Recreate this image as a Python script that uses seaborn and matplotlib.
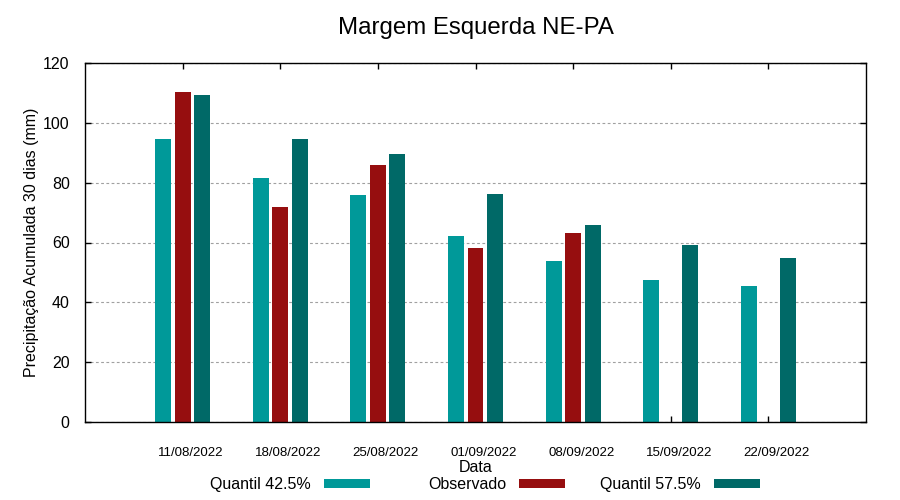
import matplotlib
matplotlib.use("Agg")
import matplotlib.pyplot as plt
import seaborn as sns
import pandas as pd
import numpy as np

dates = ["11/08/2022", "18/08/2022", "25/08/2022", "01/09/2022",
         "08/09/2022", "15/09/2022", "22/09/2022"]
q425 = [94.7, 81.4, 75.9, 62.3, 53.9, 47.6, 45.5]
observado = [110.4, 72.0, 86.0, 58.3, 63.3, np.nan, np.nan]
q575 = [109.4, 94.7, 89.7, 76.3, 65.7, 59.3, 54.9]
series_names = ["Quantil 42.5%", "Observado", "Quantil 57.5%"]
colors = ["#009999", "#960e0f", "#006967"]

df = pd.DataFrame({
    "Data": dates * 3,
    "valor": q425 + observado + q575,
    "serie": [series_names[0]] * 7 + [series_names[1]] * 7 + [series_names[2]] * 7,
})

sns.set_theme(style="white")
plt.rcParams["font.family"] = ["Liberation Sans", "DejaVu Sans"]
plt.rcParams["text.color"] = "black"
plt.rcParams["axes.labelcolor"] = "black"
plt.rcParams["xtick.color"] = "black"
plt.rcParams["ytick.color"] = "black"

fig = plt.figure(figsize=(9, 5), dpi=100)
ax = fig.add_axes([85 / 900, 1 - 422 / 500, (866 - 85) / 900, (422 - 63) / 500])

sns.barplot(data=df, x="Data", y="valor", hue="serie", order=dates,
            hue_order=series_names, palette=colors, width=0.597, gap=0.18,
            saturation=1, ax=ax, errorbar=None, legend=True, linewidth=0)

ax.set_xlim(-1, 7)
ax.set_ylim(0, 120)
ax.set_yticks(range(0, 121, 20))
ax.set_yticklabels([str(v) for v in range(0, 121, 20)], fontsize=11.5)

# major ticks: marks only; minor ticks: labels shifted slightly right (as in reference)
pos = np.arange(len(dates))
ax.set_xticks(pos)
ax.set_xticklabels([""] * len(dates))
ax.set_xticks(pos + 0.082, minor=True)
ax.set_xticklabels(dates, minor=True, fontsize=9.5)

ax.tick_params(axis="both", which="major", direction="in", length=4, width=1,
               top=True, right=True, bottom=True, left=True)
ax.tick_params(axis="x", which="minor", length=0, pad=18, bottom=True, top=False)
ax.tick_params(axis="y", pad=11)

for s in ax.spines.values():
    s.set_visible(True)
    s.set_color("black")
    s.set_linewidth(1.0)

ax.yaxis.grid(True, color="#a0a0a0", linestyle=(0, (2.5, 2.2)), linewidth=0.8)
ax.xaxis.grid(False)
ax.set_axisbelow(True)

ax.set_xlabel("Data", fontsize=11.5, labelpad=1)
ax.set_ylabel("Precipitação Acumulada 30 dias (mm)", fontsize=11.5, labelpad=3)
ax.set_title("Margem Esquerda NE-PA", fontsize=17.3, pad=21)

handles, labels = ax.get_legend_handles_labels()
ax.get_legend().remove()
ends = [370, 565, 760]
for h, l, xe in zip(handles, labels, ends):
    fig.legend([h], [l], loc="upper right", bbox_to_anchor=(xe / 900, 1 - 477 / 500),
               frameon=False, markerfirst=False, fontsize=11.5, borderpad=0,
               borderaxespad=0, handlelength=2.9, handleheight=0.5, handletextpad=0.8)

fig.savefig("out.png", dpi=100)
